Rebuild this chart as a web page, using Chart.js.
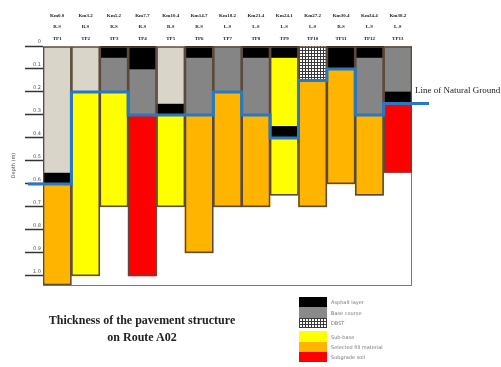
<!DOCTYPE html>
<html><head><meta charset="utf-8">
<script src="https://cdn.jsdelivr.net/npm/chart.js@4"></script>
<style>
html,body{margin:0;padding:0;background:#fff;overflow:hidden;width:501px;height:367px;}
#wrap{position:relative;width:501px;height:367px;overflow:hidden;}
canvas{position:absolute;left:0;top:0;}
.title{position:absolute;left:0;width:284px;text-align:center;font:bold 12px "Liberation Serif",serif;color:#222;white-space:nowrap;}
#ng{position:absolute;left:415px;top:85px;font:9px "Liberation Serif",serif;color:#222;white-space:nowrap;}
.sw{position:absolute;left:299px;width:28px;}
.lt{position:absolute;left:331px;font:5px "DejaVu Sans",sans-serif;color:#777;white-space:nowrap;}
</style></head><body>
<div id="wrap"><canvas id="c" width="501" height="367"></canvas>
<div class="title" style="top:313px">Thickness of the pavement structure</div>
<div class="title" style="top:330px">on Route A02</div>
<div id="ng">Line of Natural Ground</div>
</div>
<script>
// ---- data ----
const labelsKm = ["Km0.0","Km3.2","Km5.2","Km7.7","Km10.4","Km14.7","Km18.2","Km21.4","Km24.1","Km27.2","Km30.4","Km34.4","Km38.2"];
const labelsSide = ["R.S","R.S","R.S","R.S","R.S","R.S","L.S","L.S","L.S","L.S","R.S","L.S","L.S"];
const labelsTP = ["TP1","TP2","TP3","TP4","TP5","TP6","TP7","TP8","TP9","TP10","TP11","TP12","TP13"];
// layer [top, bottom] depth (m) per test pit, null = absent
const existingSurface = [[0,0.55],[0,0.2],null,null,[0,0.25],null,null,null,null,null,null,null,null];
const asphaltLayer = [[0.55,0.6],null,[0,0.05],[0,0.1],[0.25,0.3],[0,0.05],null,[0,0.05],[0,0.05],null,[0,0.1],[0,0.05],[0.2,0.25]];
const asphaltLayer2 = [null,null,null,null,null,null,null,null,[0.35,0.4],null,null,null,null];
const baseCourse = [null,null,[0.05,0.2],[0.1,0.3],null,[0.05,0.3],[0,0.2],[0.05,0.3],null,null,null,[0.05,0.3],[0,0.2]];
const dbst = [null,null,null,null,null,null,null,null,null,[0,0.15],null,null,null];
const subBase = [null,[0.2,1.0],[0.2,0.7],null,[0.3,0.7],null,null,null,[0.05,0.65],null,null,null,null];
const selectedFill = [[0.6,1.04],null,null,null,null,[0.3,0.9],[0.2,0.7],[0.3,0.7],null,[0.15,0.7],[0.1,0.6],[0.3,0.65],null];
const subgradeSoil = [null,null,null,[0.3,1.0],null,null,null,null,null,null,null,null,[0.25,0.55]];
const naturalGround = [0.6,0.2,0.2,0.3,0.3,0.3,0.2,0.3,0.4,0.15,0.1,0.3,0.25];
const yTicksMax = 1.04;
const legendNames = ["Asphalt layer","Base course","DBST","Sub-base","Selected fill material","Subgrade soil"];

// ---- styles ----
const pc = document.createElement('canvas'); pc.width = 3; pc.height = 3;
const px = pc.getContext('2d'); px.fillStyle = '#3a3a3a'; px.fillRect(0,0,3,3); px.fillStyle = '#ffffff'; px.fillRect(0,0,2,2);
const checker = px.createPattern(pc, 'repeat');

const allLayers = [existingSurface, asphaltLayer, asphaltLayer2, baseCourse, dbst, subBase, selectedFill, subgradeSoil];
const columnBottom = labelsTP.map((_, i) => {
  let b = 0; allLayers.forEach(l => { if (l[i]) b = Math.max(b, l[i][1]); }); return [0, b];
});

function bar(label, data, color, order) {
  return { type:'bar', label, data, backgroundColor: color, borderWidth: 0, order,
    grouped: false, barPercentage: 1, categoryPercentage: 1, xAxisID: 'x', yAxisID: 'y' };
}

const groundPts = [{x: -1.03, y: naturalGround[0]}];
for (let i = 1; i < naturalGround.length; i++) groundPts.push({x: i - 0.5, y: naturalGround[i]});
groundPts.push({x: 13.1, y: naturalGround[naturalGround.length - 1]});

const frame = {
  id: 'frame',
  beforeDatasetsDraw(chart) {
    const a = chart.chartArea, ctx = chart.ctx;
    ctx.save(); ctx.strokeStyle = '#777'; ctx.lineWidth = 1;
    ctx.strokeRect(a.left + 0.5, a.top + 0.5, a.right - a.left - 1, a.bottom - a.top);
    ctx.restore();
  }
};

new Chart(document.getElementById('c'), {
  type: 'bar',
  data: {
    labels: labelsTP.map((t, i) => [labelsKm[i], labelsSide[i], t]),
    datasets: [
      { type:'line', label:'Line of Natural Ground', data: groundPts, xAxisID:'x2', yAxisID:'y',
        borderColor:'#2a78c2', borderWidth:3, pointRadius:0, stepped:true, fill:false, clip:false, order:0 },
      { type:'bar', label:'outline', data: columnBottom, backgroundColor:'rgba(0,0,0,0)', borderColor:'#5b4a3b',
        borderWidth:1, borderSkipped:false, grouped:false, barPercentage:1, categoryPercentage:1, order:1, xAxisID:'x', yAxisID:'y' },
      bar('Asphalt layer (2)', asphaltLayer2, '#000000', 2),
      bar('Existing surface', existingSurface, '#d9d5c8', 3),
      bar(legendNames[0], asphaltLayer, '#000000', 3),
      bar(legendNames[1], baseCourse, '#858585', 3),
      bar(legendNames[2], dbst, checker, 3),
      bar(legendNames[3], subBase, '#ffff00', 3),
      bar(legendNames[4], selectedFill, '#ffb400', 3),
      bar(legendNames[5], subgradeSoil, '#ff0000', 3)
    ]
  },
  options: {
    responsive: false, animation: false,
    layout: { padding: { left: 0, right: 89, top: 0, bottom: 82 } },
    plugins: { legend: { display: false }, tooltip: { enabled: false } },
    scales: {
      x: { type:'category', position:'top', offset:true,
        grid: { display:false, drawTicks:false }, border: { display:false },
        ticks: { autoSkip:false, maxRotation:0, minRotation:0, padding:2, color:'#222',
          font: { family:'"Liberation Serif", serif', size:5, weight:'bold', lineHeight:2.3 } },
        afterFit(s) { s.height = 46; } },
      x2: { type:'linear', display:false, min:-0.5, max:12.5, offset:false, grid:{offset:false} },
      y: { type:'linear', reverse:true, min:0, max:yTicksMax,
        grid: { drawOnChartArea:false, tickLength:18, tickColor:'#333', tickWidth:1.5 },
        border: { display:true, color:'#555' },
        ticks: { stepSize:0.1, includeBounds:false, padding:-16, labelOffset:-4, color:'#555',
          font: { family:'"DejaVu Sans", sans-serif', size:5 } },
        title: { display:true, text:'Depth (m)', color:'#444', padding:{top:11, bottom:0},
          font: { family:'"DejaVu Sans", sans-serif', size:5 } },
        afterFit(s) { s.width = 43; } }
    }
  },
  plugins: [frame]
});

// legend (HTML)
const wrap = document.getElementById('wrap');
const legendColors = ['#000000', '#8a8a8a', 'checker', '#ffff00', '#ffb400', '#ff0000'];
const rowTop = [297, 307, 318, 331, 342, 352], rowH = [10, 11, 10, 11, 10, 10];
legendNames.forEach((n, i) => {
  const s = document.createElement('div'); s.className = 'sw';
  s.style.top = rowTop[i] + 'px'; s.style.height = rowH[i] + 'px';
  if (legendColors[i] === 'checker') {
    s.style.background = '#fff';
    s.style.backgroundImage = 'linear-gradient(#3a3a3a 1px, transparent 1px), linear-gradient(90deg, #3a3a3a 1px, transparent 1px)';
    s.style.backgroundSize = '3px 3px';
  } else s.style.background = legendColors[i];
  wrap.appendChild(s);
  const t = document.createElement('div'); t.className = 'lt'; t.textContent = n;
  t.style.top = (rowTop[i] + rowH[i] / 2 - 3) + 'px';
  wrap.appendChild(t);
});
</script>
</body></html>
